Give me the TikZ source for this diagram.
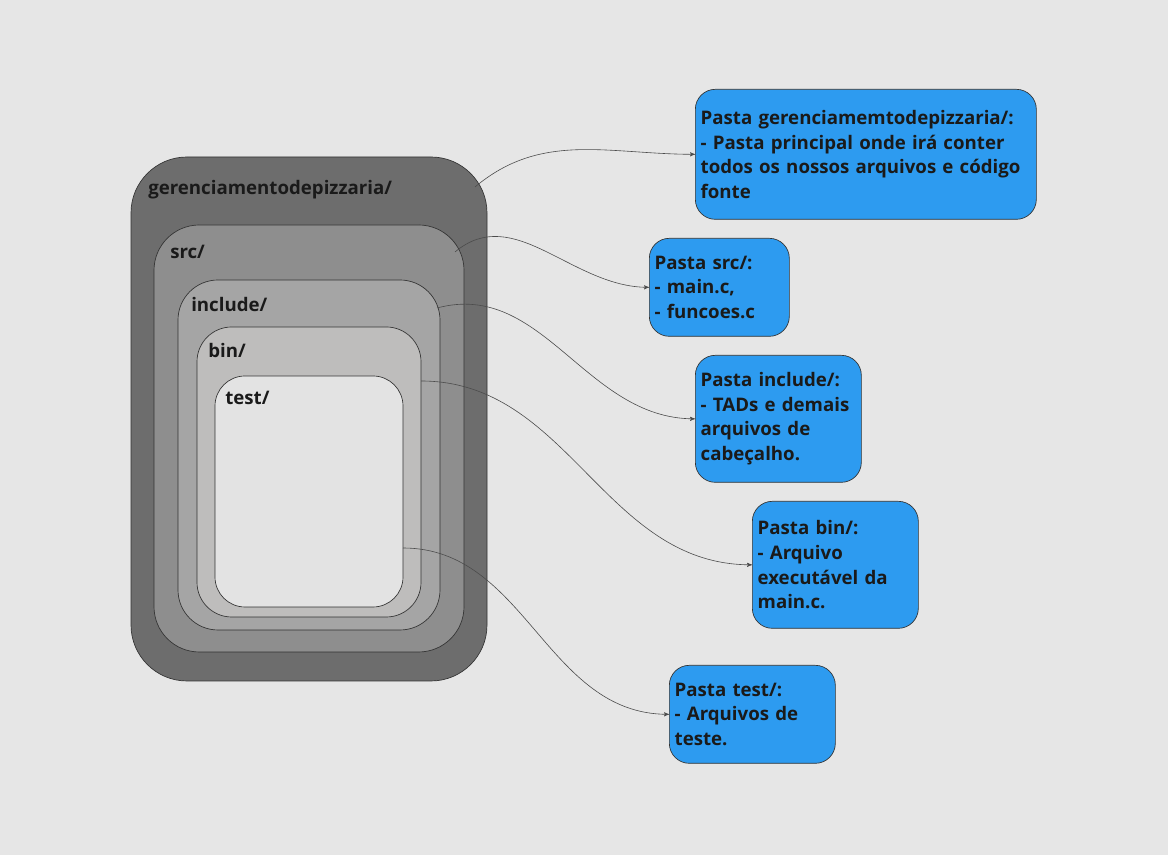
\documentclass[tikz,border=0pt]{standalone}
\usepackage{fontspec}
\setmainfont{Open Sans}
\usetikzlibrary{arrows,positioning,calc}
\definecolor{fundo}{HTML}{E6E6E6}
\definecolor{cinzaA}{HTML}{6D6D6D}
\definecolor{cinzaB}{HTML}{8E8E8E}
\definecolor{cinzaC}{HTML}{A5A5A5}
\definecolor{cinzaD}{HTML}{BEBDBC}
\definecolor{cinzaE}{HTML}{E3E3E3}
\definecolor{azul}{HTML}{2D9BF0}
\definecolor{texto}{HTML}{1A1A1A}
\tikzset{
    pasta/.style={
        rectangle,
        draw=black!80,
        line width=0.5pt,
        inner sep=0pt,
    },
    rotulo/.style={
        anchor=base west,
        inner sep=0pt,
        text=texto,
        font=\fontsize{14}{18.4}\selectfont\bfseries,
    },
    info/.style={
        rectangle,
        rounded corners=15pt,
        draw=black!80,
        line width=0.5pt,
        fill=azul,
        anchor=north west,
        align=left,
        inner xsep=4pt,
        text=texto,
        font=\fontsize{14}{18.4}\selectfont\bfseries,
    },
    every edge/.style={
        draw,
        ->,>=stealth',
        black!70,
        line width=0.45pt,
    },
  }

\begin{document}
\begin{tikzpicture}[x=0.75pt,y=0.75pt]
              \fill[fundo] (0,0) rectangle (1168,855);
              \useasboundingbox (0,0) rectangle (1168,855);

              % pastas aninhadas
              \node [pasta,fill=cinzaA,minimum width=267pt,minimum height=393pt,rounded corners=42pt] (ger) at (309,436) {};
              \node [pasta,fill=cinzaB,minimum width=232.5pt,minimum height=320.25pt,rounded corners=34pt] (src) at (309,416.5) {};
              \node [pasta,fill=cinzaC,minimum width=196.5pt,minimum height=262.5pt,rounded corners=30pt] (inc) at (309,400) {};
              \node [pasta,fill=cinzaD,minimum width=168pt,minimum height=217.5pt,rounded corners=26pt] (bin) at (309,383) {};
              \node [pasta,fill=cinzaE,minimum width=141pt,minimum height=173.25pt,rounded corners=22.5pt] (tst) at (309,363.5) {};

              \node [rotulo] (lger) at (148,660) {gerenciamentodepizzaria/};
              \node [rotulo] (lsrc) at (170,596) {src/};
              \node [rotulo] (linc) at (191,543) {include/};
              \node [rotulo] (lbin) at (208,497) {bin/};
              \node [rotulo] (ltst) at (225,450) {test/};

              % caixas de descricao
              \node [info,text width=247.75pt,minimum height=97.5pt] (iger) at (695,766)
                  {Pasta gerenciamemtodepizzaria/:\\- Pasta principal onde irá conter\\todos os nossos arquivos e código\\fonte};
              \node [info,text width=97pt,minimum height=73.5pt] (isrc) at (649,617)
                  {Pasta src/:\\- main.c,\\- funcoes.c};
              \node [info,text width=116.5pt,minimum height=95.25pt] (iinc) at (695,500)
                  {Pasta include/:\\- TADs e demais\\arquivos de\\cabeçalho.};
              \node [info,text width=116.5pt,minimum height=95.25pt] (ibin) at (752,354)
                  {Pasta bin/:\\- Arquivo\\executável da\\main.c.};
              \node [info,text width=116.5pt,minimum height=73.5pt] (itst) at (669,190)
                  {Pasta test/:\\- Arquivos de\\teste.};

              \coordinate (cger) at (475,668);
              \coordinate (csrc) at (455,603);
              \coordinate (cinc) at (437,547);
              \coordinate (cbin) at (421,474);
              \coordinate (ctst) at (403,307);

              \draw (cger) edge[out=40,in=180] (iger.west);
              \draw (csrc) edge[out=40,in=180] (isrc.west);
              \draw (cinc) edge[out=15,in=180] (iinc.west);
              \draw (cbin) edge[out=0,in=180] (ibin.west);
              \draw (ctst) edge[out=0,in=180] (itst.west);
            \end{tikzpicture}
\end{document}
